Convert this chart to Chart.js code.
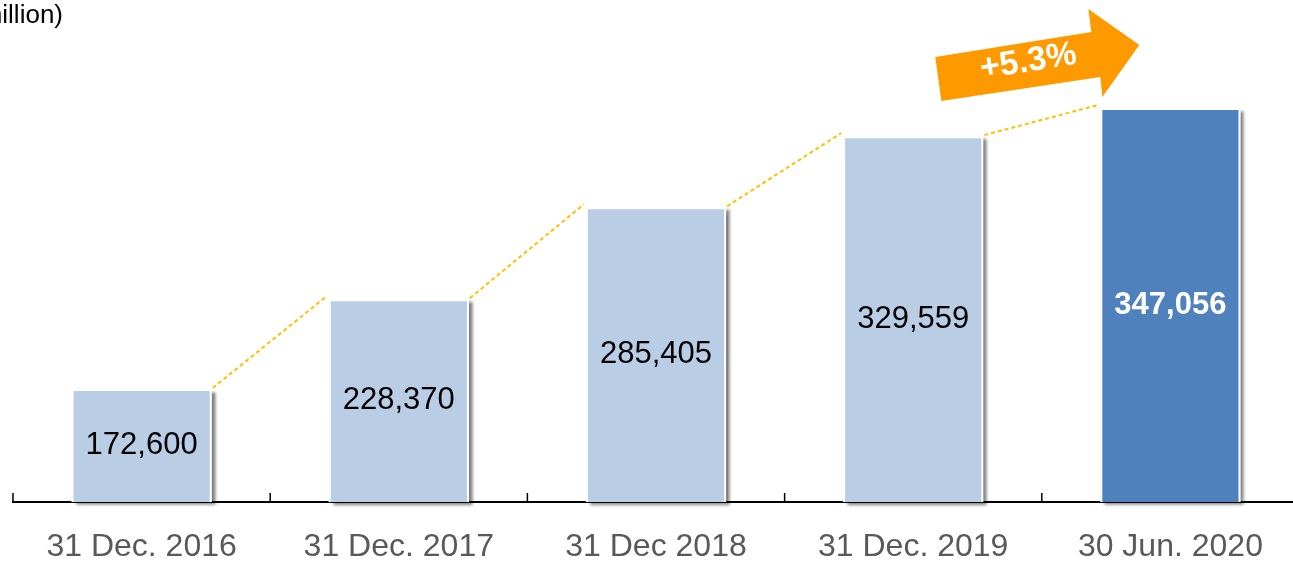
<!DOCTYPE html>
<html>
<head>
<meta charset="utf-8">
<script src="https://cdn.jsdelivr.net/npm/chart.js@4"></script>
<style>
  html, body { margin: 0; padding: 0; background: #fff; overflow: hidden; }
  #wrap { width: 1300px; height: 561px; }
</style>
</head>
<body>
<div id="wrap"><canvas id="assetChart"></canvas></div>
<script>
// Data
const periods = ["31 Dec. 2016", "31 Dec. 2017", "31 Dec 2018", "31 Dec. 2019", "30 Jun. 2020"];
const totals = [172600, 228370, 285405, 329559, 347056];
const growthLabel = "+5.3%";
const unitLabel = "(RMB million)";
const yMin = 102450;
const yMax = 400400;

const FONT = "'Liberation Sans', Arial, sans-serif";
const lightBlue = "#B9CDE5";
const darkBlue = "#4F81BD";

/*
 * Bar shadows, drawn before the bars */
const shadowPlugin = {
    id: "shadows",
    beforeDatasetsDraw(chart) {
        const ctx = chart.ctx;
        const bars = chart.getDatasetMeta(0).data;
        ctx.save();
        ctx.shadowColor = "rgba(0,0,0,0.5)";
        ctx.shadowBlur = 3;
        ctx.shadowOffsetX = 4;
        ctx.shadowOffsetY = 3;
        ctx.fillStyle = "#fff";
        bars.forEach((b) => {
            ctx.fillRect(b.x - b.width / 2, b.y, b.width, b.base - b.y);
        });
        ctx.restore();
    },
};

/*
 * Value labels, dashed connectors, axis ticks, arrow */
const decorPlugin = {
    id: "decor",
    afterDatasetsDraw(chart) {
        const ctx = chart.ctx;
        const bars = chart.getDatasetMeta(0).data;
        const area = chart.chartArea;

        // dashed lines between bar tops
        ctx.save();
        ctx.strokeStyle = "#FFC000";
        ctx.lineWidth = 2;
        ctx.setLineDash([4, 3]);
        for (let i = 0; i < bars.length - 1; i++) {
            const a = bars[i], b = bars[i + 1];
            ctx.beginPath();
            ctx.moveTo(a.x + a.width / 2 + 1, a.y - 1);
            ctx.lineTo(b.x - b.width / 2 - 2, b.y - 3);
            ctx.stroke();
        }
        ctx.restore();

        // value labels inside the bars
        ctx.save();
        ctx.textAlign = "center";
        ctx.textBaseline = "middle";
        bars.forEach((b, i) => {
            const last = i === bars.length - 1;
            ctx.font = (last ? "bold " : "") + "31px " + FONT;
            ctx.fillStyle = last ? "#fff" : "#000";
            ctx.fillText(totals[i].toLocaleString("en-US"), b.x, (b.y + b.base) / 2);
        });
        ctx.restore();

        // tick marks pointing up at category boundaries
        const catW = (area.right - area.left) / periods.length;
        ctx.save();
        ctx.strokeStyle = "#000";
        ctx.lineWidth = 1.5;
        for (let i = 0; i <= periods.length; i++) {
            const x = area.left + i * catW;
            ctx.beginPath();
            ctx.moveTo(x, area.bottom - 9);
            ctx.lineTo(x, area.bottom);
            ctx.stroke();
        }
        ctx.restore();

        // growth arrow above last bar
        const lb = bars[bars.length - 1];
        const x0 = lb.x - lb.width / 2;
        const y0 = lb.y;
        ctx.save();
        ctx.fillStyle = "#FF9900";
        ctx.beginPath();
        ctx.moveTo(x0 - 165, y0 - 51);
        ctx.lineTo(x0 - 159, y0 - 7);
        ctx.lineTo(x0, y0 - 31);
        ctx.lineTo(x0 + 2, y0 - 11);
        ctx.lineTo(x0 + 39, y0 - 63);
        ctx.lineTo(x0 - 12, y0 - 99);
        ctx.lineTo(x0 - 9, y0 - 76);
        ctx.closePath();
        ctx.fill();
        ctx.translate(x0 - 72, y0 - 46);
        ctx.rotate(-9 * Math.PI / 180);
        ctx.fillStyle = "#fff";
        ctx.font = "bold 34px " + FONT;
        ctx.textAlign = "center";
        ctx.textBaseline = "middle";
        ctx.fillText(growthLabel, 0, 0);
        ctx.restore();

        // unit label, partly off the left edge
        ctx.save();
        ctx.fillStyle = "#000";
        ctx.font = "26px " + FONT;
        ctx.textAlign = "right";
        ctx.textBaseline = "alphabetic";
        ctx.fillText(unitLabel, 63, 23);
        ctx.restore();
    },
};

const ctx = document.getElementById("assetChart");

new Chart(ctx, {
    type: "bar",
    data: {
        labels: periods,
        datasets: [
            {
                data: totals,
                base: yMin,
                backgroundColor: totals.map((v, i) => (i === totals.length - 1 ? darkBlue : lightBlue)),
                borderColor: "#fff",
                borderWidth: 2,
                categoryPercentage: 1,
                barPercentage: 0.545,
            },
        ],
    },
    options: {
        responsive: true,
        maintainAspectRatio: false,
        animation: false,
        layout: {
            padding: { top: 22, left: 13, right: 1, bottom: 0 },
        },
        plugins: {
            legend: { display: false },
            tooltip: { enabled: false },
        },
        scales: {
            x: {
                grid: { display: false, drawTicks: false },
                border: { display: true, color: "#000", width: 2 },
                ticks: {
                    color: "#595959",
                    font: { family: FONT, size: 32 },
                    padding: 26,
                    maxRotation: 0,
                },
                afterFit: (scale) => {
                    scale.height = 59;
                },
            },
            y: {
                display: false,
                min: yMin,
                max: yMax,
            },
        },
    },
    plugins: [shadowPlugin, decorPlugin],
});
</script>
</body>
</html>
